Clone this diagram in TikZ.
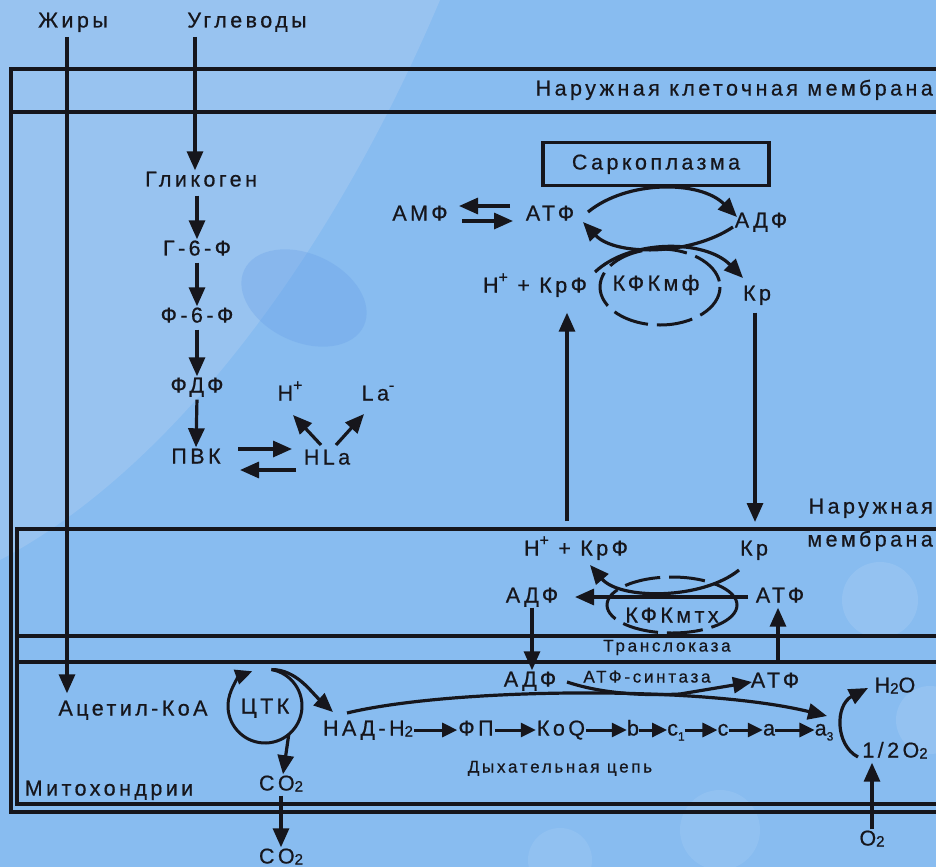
\documentclass[tikz,border=0pt]{standalone}
\usepackage{fontspec}
\setmainfont{Liberation Sans}[LetterSpace=16, FakeBold=0.6]
\usetikzlibrary{arrows.meta,calc}
\definecolor{ink}{RGB}{22,22,28}
\definecolor{sky}{RGB}{136,188,240}
\definecolor{skylight}{RGB}{176,206,242}
\definecolor{blob}{RGB}{100,158,232}
% small index raised / lowered
\newcommand\lo[1]{\raisebox{-1pt}{\fontsize{15}{15}\selectfont #1}}
\newcommand\hi[1]{\raisebox{10pt}{\fontsize{16}{16}\selectfont #1}}
\newcommand\ix[1]{\raisebox{-5pt}{\fontsize{12}{12}\selectfont #1}}
\begin{document}
\begin{tikzpicture}[x=1pt,y=-1pt,
  lbl/.style={font=\fontsize{21.5}{23}\selectfont, text=ink, inner sep=1pt, text height=15pt, text depth=4pt},
  sml/.style={font=\fontsize{17}{19}\selectfont, text=ink, inner sep=1pt, text height=12pt, text depth=3pt},
  mem/.style={draw=ink, line width=3.4pt},
  arr/.style={draw=ink, line width=3.2pt, -{Triangle[length=19pt,width=16pt]}},
  sarr/.style={draw=ink, line width=3pt, -{Triangle[length=15pt,width=14pt]}},
  ring/.style={draw=ink, line width=3pt, dash pattern=on 36pt off 9pt},
]
\useasboundingbox (0,0) rectangle (936,867);
% background
\fill[sky] (0,0) rectangle (936,867);
\fill[skylight, opacity=0.4] (0,0) -- (440,0) .. controls (330,260) and (170,470) .. (0,560) -- cycle;
\fill[blob, opacity=0.3, rotate around={-25:(304,298)}] (304,298) ellipse [x radius=66, y radius=44];
\fill[white, opacity=0.10] (880,600) circle [radius=38];
\fill[white, opacity=0.10] (930,720) circle [radius=34];
\fill[white, opacity=0.08] (720,830) circle [radius=40];
\fill[white, opacity=0.08] (560,860) circle [radius=32];

% membranes
\draw[mem] (936,69) -- (11,69) -- (11,812) -- (936,812);
\draw[mem] (11,112) -- (936,112);
\draw[mem] (936,529) -- (17,529) -- (17,804) -- (936,804);
\draw[mem] (17,636) -- (936,636);
\draw[mem] (17,662) -- (936,662);

% labels: cell
\node[lbl] (fat) at (73,22) {Жиры};
\node[lbl] (carb) at (247,22) {Углеводы};
\node[lbl, anchor=east] (cellmem) at (934,90) {Наружная клеточная мембрана};
\node[lbl] (gly) at (201,181) {Гликоген};
\node[lbl] (g6f) at (197,250) {Г-6-Ф};
\node[lbl] (f6f) at (197,317) {Ф-6-Ф};
\node[lbl] (fdf) at (197,387) {ФДФ};
\node[lbl] (pvk) at (196,458) {ПВК};
\node[lbl] (hla) at (327,459) {HLa};
\node[lbl] (hp) at (290,395) {H\hi{+}};
\node[lbl] (la) at (378,395) {La\hi{-}};

% sarcoplasm
\node[lbl, draw=ink, line width=3.4pt, minimum width=226pt, minimum height=43pt] (sarco) at (656,164) {Саркоплазма};
\node[lbl] (amf) at (420,215) {АМФ};
\node[lbl] (atf1) at (550,215) {АТФ};
\node[lbl] (adf1) at (761,222) {АДФ};
\node[lbl] (hkrf1) at (535,287) {H\hi{+} + КрФ};
\node[lbl] (ckm1) at (656,285) {КФКмф};
\node[lbl] (kr1) at (757,295) {Кр};

% mitochondria
\node[lbl, anchor=east] (outer1) at (934,508) {Наружная};
\node[lbl, anchor=east] (outer2) at (934,541) {мембрана};
\node[lbl] (hkrf2) at (576,550) {H\hi{+} + КрФ};
\node[lbl] (kr2) at (754,550) {Кр};
\node[lbl] (adf2) at (532,597) {АДФ};
\node[lbl] (atf2) at (780,597) {АТФ};
\node[lbl] (ckm2) at (672,617) {КФКмтх};
\node[sml] (transl) at (667,647) {Транслоказа};
\node[lbl] (adf3) at (530,681) {АДФ};
\node[sml] (synth) at (647,678) {АТФ-синтаза};
\node[lbl] (atf3) at (775,682) {АТФ};
\node[lbl] (h2o) at (895,687) {H\lo{2}O};
\node[lbl] (acetyl) at (133,710) {Ацетил-КоА};
\node[lbl, circle, text height=, text depth=, minimum size=74pt, inner sep=0pt] (tca) at (265,706) {};
\node[lbl] (tcatext) at (265,708) {ЦТК};
\node[lbl] (nadh) at (368,730) {НАД-Н\lo{2}};
\node[lbl] (fp) at (476,730) {ФП};
\node[lbl] (koq) at (561,730) {КоQ};
\node[lbl, inner sep=0pt] (b) at (633,730) {b};
\node[lbl, inner sep=0pt] (c1) at (676,730) {c\ix{1}};
\node[lbl, inner sep=0pt] (c) at (723,730) {c};
\node[lbl, inner sep=0pt] (a) at (769,730) {a};
\node[lbl, inner sep=0pt] (a3) at (824,730) {a\ix{3}};
\node[lbl] (half) at (895,752) {1/2O\lo{2}};
\node[sml] (resp) at (560,768) {Дыхательная цепь};
\node[lbl] (mito) at (109,790) {Митохондрии};
\node[lbl] (co2a) at (281,785) {CO\lo{2}};
\node[lbl] (co2b) at (281,858) {CO\lo{2}};
\node[lbl] (o2) at (872,840) {O\lo{2}};

% entry of substrates
\coordinate (fatTop) at (67,37);
\coordinate (carbTop) at (195,37);
\draw[arr, shorten >=6pt] (fatTop) -- (fatTop |- acetyl.north);
\draw[arr] (carbTop) -- (carbTop |- gly.north);

% glycolysis
\draw[arr, shorten <=4pt] (g6f.north |- gly.south) -- (g6f.north);
\draw[arr, shorten <=2pt] (g6f.south) -- (f6f.north);
\draw[arr, shorten <=2pt] (f6f.south) -- (fdf.north);
\draw[arr, shorten <=2pt] (fdf.south) -- (pvk.north);
\draw[arr] ($(pvk.center)+(42,-9)$) -- ($(hla.center)+(-35,-10)$);
\draw[arr] ($(hla.center)+(-31,11)$) -- ($(pvk.center)+(44,12)$);
\draw[arr] ($(hla.center)+(-6,-14)$) -- ($(hp.center)+(3,20)$);
\draw[arr] ($(hla.center)+(9,-14)$) -- ($(la.center)+(-14,19)$);

% sarcoplasm reactions
\draw[arr] ($(atf1.center)+(-40,-9)$) -- ($(amf.center)+(39,-9)$);
\draw[arr] ($(amf.center)+(42,6)$) -- ($(atf1.center)+(-37,6)$);
\draw[arr] ($(atf1.center)+(38,-3)$) .. controls ($(atf1.center)+(77,-35)$) and ($(adf1.center)+(-61,-42)$) .. ($(adf1.center)+(-24,-5)$);
\draw[arr] ($(adf1.center)+(-28,5)$) .. controls ($(adf1.center)+(-71,34)$) and ($(atf1.center)+(65,41)$) .. ($(atf1.center)+(33,7)$);
\draw[arr] ($(hkrf1.center)+(60,-15)$) .. controls ($(hkrf1.center)+(95,-48)$) and ($(kr1.center)+(-52,-56)$) .. ($(kr1.center)+(-14,-17)$);
\draw[ring] ($(ckm1.center)+(4,2)$) ellipse [x radius=60, y radius=38];

% creatine shuttle through the outer membrane
\coordinate (crUp) at (567,521);
\coordinate (crDown) at (755,522);
\draw[arr, shorten >=15pt] (crUp) -- (crUp |- hkrf1.south);
\draw[arr, shorten <=7pt] (kr1.south -| crDown) -- (crDown);

% mitochondrial creatine kinase
\draw[arr] ($(atf2.center)+(-32,0)$) -- ($(adf2.center)+(43,0)$);
\draw[arr] ($(kr2.center)+(-15,20)$) .. controls ($(kr2.center)+(-52,50)$) and ($(hkrf2.center)+(44,50)$) .. ($(hkrf2.center)+(14,15)$);
\draw[ring] ($(ckm2.center)+(0,-12)$) ellipse [x radius=65, y radius=28];

% translocase
\coordinate (atpBase) at (778,662);
\draw[arr] (adf2.south) -- (adf2.south |- adf3.north);
\draw[arr] (atpBase) -- (atpBase |- atf2.south);

% ATP synthase
\draw[arr] ($(adf3.center)+(37,1)$) .. controls ($(adf3.center)+(70,12)$) and ($(adf3.center)+(110,15)$) .. ($(adf3.center)+(150,13)$) -- ($(atf3.center)+(-23,0)$);

% Krebs cycle
\draw[draw=ink, line width=3pt, -{Triangle[length=17pt,width=15pt]}] ([shift={(80:37pt)}]tca.center) arc[start angle=80, end angle=-250, radius=37pt];
\draw[arr] ([shift={(80:37pt)}]tca.center) .. controls +(25,0) and +(-22,-20) .. ($(nadh.center)+(-35,-18)$);
\draw[arr] ([shift={(-50:37pt)}]tca.center) -- ($(co2a.north)+(2,0)$);
\draw[arr] (co2a.south) -- (co2b.north);

% respiratory chain
\draw[arr] ($(nadh.center)+(-21,-17)$) .. controls (450,688) and (700,685) .. ($(a3.center)+(3,-14)$);
\foreach \u/\v in {nadh/fp, fp/koq, koq/b, b/c1, c1/c, c/a, a/a3}
  \draw[sarr] (\u.east) -- (\v.west);

% oxygen
\draw[arr] ($(half.center)+(-37,5)$) .. controls ($(half.center)+(-60,-7)$) and ($(h2o.center)+(-60,18)$) .. ($(h2o.center)+(-27,1)$);
\draw[arr] (o2.north) -- (o2.north |- half.south);
\end{tikzpicture}
\end{document}
